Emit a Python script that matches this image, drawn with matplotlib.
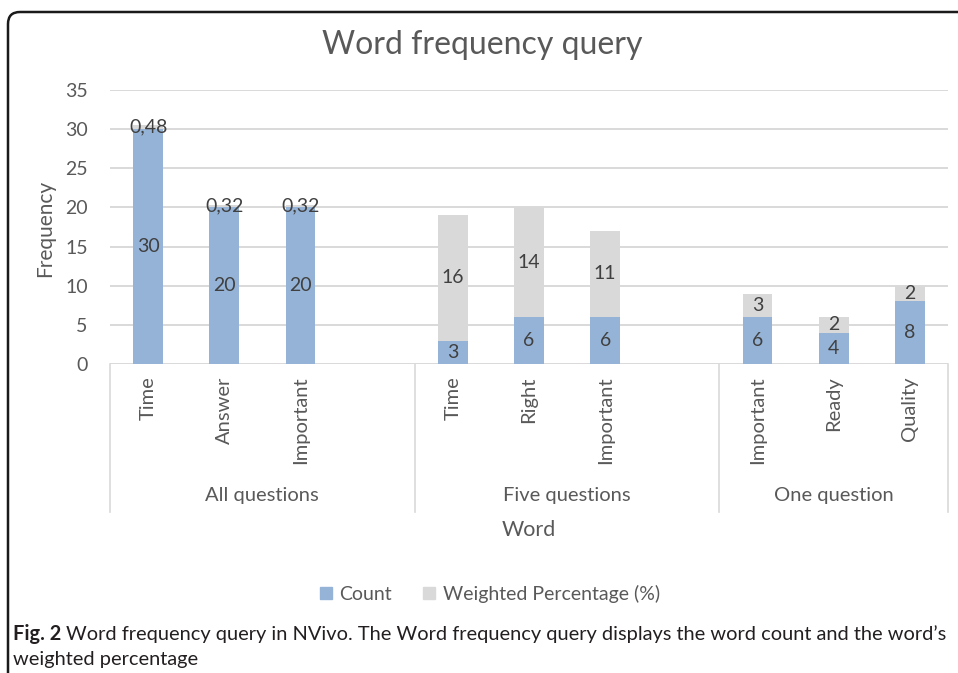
import matplotlib
matplotlib.use("Agg")
from matplotlib import pyplot as plt
from matplotlib.patches import FancyBboxPatch
from matplotlib.transforms import blended_transform_factory

plt.rcParams['font.family'] = ['Lato', 'DejaVu Sans']

groups = ["All questions", "Five questions", "One question"]
words = [["Time", "Answer", "Important"],
         ["Time", "Right", "Important"],
         ["Important", "Ready", "Quality"]]
count = [30, 20, 20, 3, 6, 6, 6, 4, 8]
weighted = [0.48, 0.32, 0.32, 16, 14, 11, 3, 2, 2]

blue = "#95B3D7"
grey = "#D9D9D9"
txt = "#595959"


def fmt(v):
    if v == int(v):
        return str(int(v))
    return f"{v:.2f}".replace(".", ",")


# category slots, with one empty slot between groups (as in the Excel chart)
_x = []
labels = []
bounds = []
pos = 0
for i, g in enumerate(words):
    start = pos - 0.5
    for w in g:
        _x.append(pos)
        labels.append(w)
        pos += 1
    if i < len(words) - 1:
        pos += 1
    bounds.append((start, pos - 0.5))

fig = plt.figure(figsize=(9.58, 6.73), dpi=100)
ax = fig.add_axes([110 / 958, 1 - 364 / 673, 838 / 958, 274 / 673])

ax.bar(_x, count, width=0.39, color=blue, zorder=2)
ax.bar(_x, weighted, width=0.39, bottom=count, color=grey, zorder=2)

for x, c, w in zip(_x, count, weighted):
    ax.text(x, c / 2, fmt(c), ha="center", va="center", fontsize=14, color="#404040", zorder=3)
    ax.text(x, c + w / 2, fmt(w), ha="center", va="center", fontsize=14, color="#404040", zorder=3)

ax.set_xlim(-0.5, pos - 0.5)
ax.set_ylim(0, 35)
ax.set_yticks(range(0, 36, 5))
ax.set_xticks(_x, labels, rotation=90, va="top", fontsize=14.5, color=txt)
ax.tick_params(axis="y", length=0, pad=16, labelsize=14, labelcolor=txt)
ax.tick_params(axis="x", length=0, pad=9)
ax.yaxis.grid(True, color=grey, lw=1.4)
ax.set_axisbelow(True)
for s in ax.spines.values():
    s.set_visible(False)

tr = blended_transform_factory(ax.transData, ax.transAxes)
for (a, b), g in zip(bounds, groups):
    ax.text((a + b) / 2, (364 - 496) / 274, g, transform=tr, ha="center", va="center",
            fontsize=14.5, color=txt)
edges = sorted(set([b for ab in bounds for b in ab]))
for e in edges:
    ax.plot([e, e], [0, (364 - 512) / 274], transform=tr, color=grey, lw=1.2, clip_on=False)

ax.text(0.5, (364 - 530) / 274, "Word", transform=ax.transAxes, ha="center", va="center",
        fontsize=15.5, color=txt)
fig.text(45 / 958, 1 - 228 / 673, "Frequency", rotation=90, ha="center", va="center",
         fontsize=15, color=txt)
fig.text(482 / 958, 1 - 45 / 673, "Word frequency query", ha="center", va="center",
         fontsize=23, color=txt)

h1 = plt.Rectangle((0, 0), 1, 1, color=blue)
h2 = plt.Rectangle((0, 0), 1, 1, color=grey)
fig.legend([h1, h2], ["Count", "Weighted Percentage (%)"], loc="center",
           bbox_to_anchor=(490 / 958, 1 - 594 / 673), ncol=2, frameon=False,
           fontsize=14, handlelength=0.6, handleheight=0.6, handletextpad=0.4,
           columnspacing=1.6, labelcolor=txt)

# outer frame with rounded top-left corner
frame = FancyBboxPatch((0.08, -0.5), 10.5, 6.61 + 0.5, boxstyle="round,pad=0,rounding_size=0.12",
                       transform=fig.dpi_scale_trans, fill=False, lw=1.8, ec="#1a1a1a")
fig.add_artist(frame)

# caption
r = fig.canvas.get_renderer()
t1 = fig.text(13 / 958, 1 - 634 / 673, "Fig. 2", fontweight="bold", fontsize=14.4,
              va="center", color="#231F20")
bb = t1.get_window_extent(r)
fig.text((bb.x1 + 5) / 958, 1 - 634 / 673,
         "Word frequency query in NVivo. The Word frequency query displays the word count and the word\u2019s",
         fontsize=14.4, va="center", color="#231F20")
fig.text(13 / 958, 1 - 660 / 673, "weighted percentage", fontsize=14.4, va="center", color="#231F20")

plt.savefig("out.png", dpi=100)
